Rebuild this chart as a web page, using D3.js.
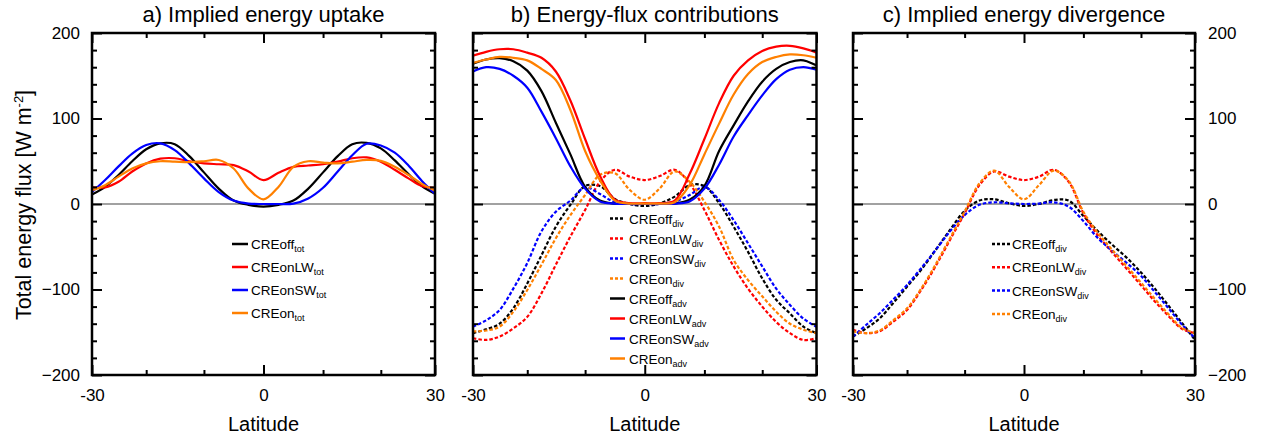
<!DOCTYPE html>
<html>
<head>
<meta charset="utf-8">
<script src="https://cdn.jsdelivr.net/npm/d3@7"></script>
<style>
  body { margin: 0; background: #fff; }
  svg { display: block; }
  text { font-family: "Liberation Sans", Arial, Helvetica, sans-serif; fill: #000; }
</style>
</head>
<body>
<svg id="chart" width="1268" height="439"></svg>
<script>
// Latitude grid (degrees)
const latitude = [-30, -27.5, -25, -22.5, -20, -17.5, -15, -12.5, -10, -7.5, -5, -2.5, 0,
                  2.5, 5, 7.5, 10, 12.5, 15, 17.5, 20, 22.5, 25, 27.5, 30];

// a) implied energy uptake (W m-2)
const offTot   = [11, 20, 34, 50, 64, 71, 70, 56, 37, 18, 4, -1, -3, -1, 4, 18, 37, 56, 70, 71.5, 65, 51, 35, 21, 12];
const onLWTot  = [19.5, 19.5, 26, 38, 47.5, 53, 53.5, 50, 47.5, 46.5, 45.5, 38, 28, 36.5, 43.5, 45, 46.5, 49.5, 53.5, 54.5, 49.5, 40, 30, 21, 19];
const onSWTot  = [14, 28, 44, 59, 69, 71, 63, 47.5, 30, 14, 4, 0.5, 0, 0, 0.5, 6.5, 19, 38, 57, 70.5, 68.5, 60, 45, 27, 12];
const onTot    = [16, 22, 32, 41.5, 47.5, 50, 49.5, 49, 50, 51.5, 41.5, 18, 5.5, 20, 43.5, 50, 48.5, 47.5, 49.5, 51.5, 50.5, 43.5, 34, 23.5, 15.5];

// b) divergence and advection contributions
const offDiv   = [-151, -146.6, -140, -122, -93, -60, -26.5, -1, 21, 21, 6, 0, -2.3, 0.8, 8.6, 22, 21, 1, -26.5, -56, -87, -112, -128, -143.5, -151];
const onLWDiv  = [-157, -159, -155, -145.5, -132, -104.5, -71, -38, -7, 26, 40, 32, 28, 32.7, 40, 24, -7, -42, -73, -99, -120, -138, -151, -159, -157];
const onSWDiv  = [-143.5, -136, -124, -99, -69, -32, -9, 4, 19.5, 11.7, 2, 0, 0, 0, 2.7, 10.5, 20, 4.7, -19, -46, -73, -99, -118, -134, -143.5];
const onDiv    = [-149, -148, -143.5, -126, -100.6, -71, -40, -13, 10.5, 34, 36, 16.4, 5, 18.3, 38, 26, 2.7, -26.5, -65.5, -89, -108, -126, -140, -147, -151];
const offAdv   = [164, 169, 170.5, 167, 156, 132, 95, 58, 20, 4, 0.5, 0, 0, 0, 0.5, 5, 21, 62, 92, 120, 143, 158, 166, 168, 162];
const onLWAdv  = [173.5, 178, 181, 181, 177, 171, 155, 121, 76, 33, 5, 1, 1, 1, 4, 35, 76, 118, 150, 168, 179, 184, 185, 182, 177];
const onSWAdv  = [155, 160, 158, 150, 136, 108, 77, 44, 18, 3, 0.5, 0, 0, 0, 0.5, 3, 18, 46, 79, 104, 127, 146, 157, 160, 157];
const onAdv    = [165, 169, 172, 171, 168, 158, 145, 110, 62, 28, 4, 0.5, 0.5, 0.5, 2, 22, 58, 94, 128, 152, 166, 172, 175, 174, 171];

// c) implied energy divergence
const offImpl  = [-155, -145.5, -134, -116, -96.7, -77, -54, -30.4, -8, 4, 5.5, 0.8, -2.3, 0, 4.7, 4, -14, -32, -48, -63, -80, -99, -119, -139, -159];
const onLWImpl = [-147, -151, -149, -137.6, -124, -100.6, -73, -42, -11, 22, 38, 32, 28, 32, 40, 26, -11, -37, -57, -76, -95, -114, -131, -146, -151];
const onSWImpl = [-155, -141.5, -128, -112, -94.7, -75, -54, -32, -13, -1, 2, 0.8, 0, 0.5, 2, -3, -20, -40, -55, -69, -84, -103, -122, -141, -157];
const onImpl   = [-149, -151, -148, -136, -122, -99, -71, -40, -9, 24, 39, 20, 5.5, 22, 39, 27, -9, -34, -54, -73, -92, -111, -129, -145, -151];

// Axis ticks
const latMajor = [-30, 0, 30];
const latMinor = [-20, -10, 10, 20];
const fluxMajor = [-200, -100, 0, 100, 200];
const fluxMinor = [-180, -160, -140, -120, -80, -60, -40, -20, 20, 40, 60, 80, 120, 140, 160, 180];

const COL = { off: "#000000", lw: "#ff0000", sw: "#0000ff", on: "#ff8000" };

const panels = [
  {
    id: "a", title: "a) Implied energy uptake", x0: 92, x1: 435, labels: "left",
    series: [
      { values: offTot,  color: COL.off, dashed: false, name: "CREoff",  sub: "tot" },
      { values: onLWTot, color: COL.lw,  dashed: false, name: "CREonLW", sub: "tot" },
      { values: onSWTot, color: COL.sw,  dashed: false, name: "CREonSW", sub: "tot" },
      { values: onTot,   color: COL.on,  dashed: false, name: "CREon",   sub: "tot" }
    ],
    legend: { lx0: 232, lx1: 248, tx: 251, y0: 244, dy: 23 }
  },
  {
    id: "b", title: "b) Energy-flux contributions", x0: 473, x1: 816.5, labels: "none",
    series: [
      { values: offDiv,  color: COL.off, dashed: true,  name: "CREoff",  sub: "div" },
      { values: onLWDiv, color: COL.lw,  dashed: true,  name: "CREonLW", sub: "div" },
      { values: onSWDiv, color: COL.sw,  dashed: true,  name: "CREonSW", sub: "div" },
      { values: onDiv,   color: COL.on,  dashed: true,  name: "CREon",   sub: "div" },
      { values: offAdv,  color: COL.off, dashed: false, name: "CREoff",  sub: "adv" },
      { values: onLWAdv, color: COL.lw,  dashed: false, name: "CREonLW", sub: "adv" },
      { values: onSWAdv, color: COL.sw,  dashed: false, name: "CREonSW", sub: "adv" },
      { values: onAdv,   color: COL.on,  dashed: false, name: "CREon",   sub: "adv" }
    ],
    legend: { lx0: 610, lx1: 625, tx: 629, y0: 218.5, dy: 20 }
  },
  {
    id: "c", title: "c) Implied energy divergence", x0: 853, x1: 1195, labels: "right",
    series: [
      { values: offImpl,  color: COL.off, dashed: true, name: "CREoff",  sub: "div" },
      { values: onLWImpl, color: COL.lw,  dashed: true, name: "CREonLW", sub: "div" },
      { values: onSWImpl, color: COL.sw,  dashed: true, name: "CREonSW", sub: "div" },
      { values: onImpl,   color: COL.on,  dashed: true, name: "CREon",   sub: "div" }
    ],
    legend: { lx0: 992, lx1: 1010, tx: 1012, y0: 244, dy: 23.3 }
  }
];

const sinDeg = d => Math.sin(d * Math.PI / 180);
const yTop = 33, yBottom = 375;
const y = d3.scaleLinear().domain([-200, 200]).range([yBottom, yTop]);
const svg = d3.select("#chart");
const DASH = "3.5,2";

function styleAxis(sel, fontSize) {
  sel.select(".domain").remove();
  sel.selectAll(".tick line").attr("stroke", "#000").attr("stroke-width", 2);
  sel.selectAll(".tick text")
    .attr("font-family", '"Liberation Sans", Arial, Helvetica, sans-serif')
    .attr("font-size", fontSize).attr("fill", "#000");
  sel.attr("font-family", null).attr("font-size", null);
}

panels.forEach(p => {
  // x axis is linear in sin(latitude)
  const x = d3.scaleLinear().domain([sinDeg(-30), sinDeg(30)]).range([p.x0, p.x1]);
  const g = svg.append("g").attr("class", "panel-" + p.id);

  g.append("clipPath").attr("id", "clip-" + p.id)
    .append("rect").attr("x", p.x0).attr("y", yTop)
    .attr("width", p.x1 - p.x0).attr("height", yBottom - yTop);

  // zero reference line
  g.append("line")
    .attr("x1", p.x0).attr("x2", p.x1).attr("y1", y(0)).attr("y2", y(0))
    .attr("stroke", "#444").attr("stroke-width", 1.2);

  const line = d3.line()
    .x((d, i) => x(sinDeg(latitude[i])))
    .y(d => y(d))
    .curve(d3.curveCatmullRom.alpha(0.5));

  p.series.forEach(s => {
    g.append("path")
      .attr("d", line(s.values))
      .attr("fill", "none")
      .attr("stroke", s.color)
      .attr("stroke-width", 2.2)
      .attr("stroke-dasharray", s.dashed ? DASH : null)
      .attr("clip-path", `url(#clip-${p.id})`);
  });

  // bottom axis with labels, top axis mirrored
  const fmtLat = (d, i) => latMajor[i];
  g.append("g").attr("transform", `translate(0,${yBottom})`)
    .call(d3.axisBottom(x).tickValues(latMajor.map(sinDeg)).tickFormat(fmtLat).tickSize(-10).tickPadding(14))
    .call(s => styleAxis(s, 17));
  g.append("g").attr("transform", `translate(0,${yBottom})`)
    .call(d3.axisBottom(x).tickValues(latMinor.map(sinDeg)).tickFormat("").tickSize(-5))
    .call(s => styleAxis(s, 17));
  g.append("g").attr("transform", `translate(0,${yTop})`)
    .call(d3.axisTop(x).tickValues(latMajor.map(sinDeg)).tickFormat("").tickSize(-10))
    .call(s => styleAxis(s, 17));
  g.append("g").attr("transform", `translate(0,${yTop})`)
    .call(d3.axisTop(x).tickValues(latMinor.map(sinDeg)).tickFormat("").tickSize(-5))
    .call(s => styleAxis(s, 17));

  // left / right axes
  g.append("g").attr("transform", `translate(${p.x0},0)`)
    .call(d3.axisLeft(y).tickValues(fluxMajor).tickSize(-10).tickPadding(12)
      .tickFormat(p.labels === "left" ? d3.format("d") : ""))
    .call(s => styleAxis(s, 17));
  g.append("g").attr("transform", `translate(${p.x0},0)`)
    .call(d3.axisLeft(y).tickValues(fluxMinor).tickSize(-5).tickFormat(""))
    .call(s => styleAxis(s, 17));
  g.append("g").attr("transform", `translate(${p.x1},0)`)
    .call(d3.axisRight(y).tickValues(fluxMajor).tickSize(-10).tickPadding(13)
      .tickFormat(p.labels === "right" ? d3.format("d") : ""))
    .call(s => styleAxis(s, 17));
  g.append("g").attr("transform", `translate(${p.x1},0)`)
    .call(d3.axisRight(y).tickValues(fluxMinor).tickSize(-5).tickFormat(""))
    .call(s => styleAxis(s, 17));

  // frame
  g.append("rect")
    .attr("x", p.x0).attr("y", yTop)
    .attr("width", p.x1 - p.x0).attr("height", yBottom - yTop)
    .attr("fill", "none").attr("stroke", "#000").attr("stroke-width", 2.5);

  // title and x label
  const cx = (p.x0 + p.x1) / 2;
  g.append("text").attr("x", cx).attr("y", 22).attr("text-anchor", "middle")
    .attr("font-size", 22).text(p.title);
  g.append("text").attr("x", cx).attr("y", 431).attr("text-anchor", "middle")
    .attr("font-size", 20).text("Latitude");

  // legend
  const L = p.legend;
  p.series.forEach((s, i) => {
    const ly = L.y0 + i * L.dy;
    g.append("line")
      .attr("x1", L.lx0).attr("x2", L.lx1).attr("y1", ly).attr("y2", ly)
      .attr("stroke", s.color).attr("stroke-width", 2.5)
      .attr("stroke-dasharray", s.dashed ? "3,2" : null);
    const t = g.append("text").attr("x", L.tx).attr("y", ly + 5).attr("font-size", 13.5);
    t.append("tspan").text(s.name);
    t.append("tspan").attr("font-size", 9).attr("dy", 3).text(s.sub);
  });
});

// y axis title
const yt = svg.append("text")
  .attr("transform", "translate(31,205) rotate(-90)")
  .attr("text-anchor", "middle")
  .attr("font-size", 21.5);
yt.append("tspan").text("Total energy flux [W m");
yt.append("tspan").attr("font-size", 13).attr("dy", -8).text("-2");
yt.append("tspan").attr("dy", 8).text("]");
</script>
</body>
</html>
